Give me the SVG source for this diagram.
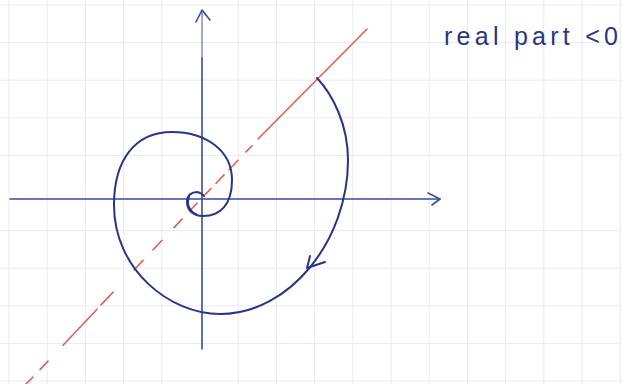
<svg xmlns="http://www.w3.org/2000/svg" width="622" height="384" viewBox="0 0 622 384">
<style>
.grid line{stroke:#e9ebf1;stroke-width:1}
.axis{stroke:#3a4aa6;stroke-width:1.6;fill:none;stroke-linecap:round;stroke-linejoin:round}
.ink{stroke:#2a3589;stroke-width:2;fill:none;stroke-linecap:round;stroke-linejoin:round}
.red{stroke:#ec5a55;stroke-width:1.6;fill:none;stroke-linecap:round}
.label{font-family:"Liberation Sans","DejaVu Sans",sans-serif;font-size:25px;fill:#2a3589}
</style>
<rect width="622" height="384" fill="#ffffff"/>
<g id="grid" class="grid">
<line x1="9" y1="0" x2="9" y2="384"/><line x1="47.2" y1="0" x2="47.2" y2="384"/><line x1="85.4" y1="0" x2="85.4" y2="384"/><line x1="123.6" y1="0" x2="123.6" y2="384"/><line x1="161.8" y1="0" x2="161.8" y2="384"/><line x1="238.2" y1="0" x2="238.2" y2="384"/><line x1="276.4" y1="0" x2="276.4" y2="384"/><line x1="314.6" y1="0" x2="314.6" y2="384"/><line x1="352.8" y1="0" x2="352.8" y2="384"/><line x1="391" y1="0" x2="391" y2="384"/><line x1="429.2" y1="0" x2="429.2" y2="384"/><line x1="467.4" y1="0" x2="467.4" y2="384"/><line x1="505.6" y1="0" x2="505.6" y2="384"/><line x1="543.8" y1="0" x2="543.8" y2="384"/><line x1="582" y1="0" x2="582" y2="384"/><line x1="620.2" y1="0" x2="620.2" y2="384"/>
<line x1="0" y1="5" x2="622" y2="5"/><line x1="0" y1="42.6" x2="622" y2="42.6"/><line x1="0" y1="80.2" x2="622" y2="80.2"/><line x1="0" y1="117.8" x2="622" y2="117.8"/><line x1="0" y1="155.4" x2="622" y2="155.4"/><line x1="0" y1="230.6" x2="622" y2="230.6"/><line x1="0" y1="268.2" x2="622" y2="268.2"/><line x1="0" y1="305.8" x2="622" y2="305.8"/><line x1="0" y1="343.4" x2="622" y2="343.4"/><line x1="0" y1="381" x2="622" y2="381"/>
</g>
<g id="axes">
<g id="x-axis"><line class="axis" x1="10" y1="199" x2="440" y2="199"/><polyline class="axis" points="428,193 440,199 432,205"/></g>
<g id="y-axis"><line class="axis" x1="202" y1="11" x2="202" y2="58" stroke-opacity="0.6"/><line class="axis" x1="202" y1="58" x2="202" y2="349"/><polyline class="axis" points="196,22 202,10 210,20"/></g>
</g>
<g id="red-line" class="red">
<line x1="367" y1="29" x2="258" y2="139"/>
<line x1="252" y1="145.7" x2="246" y2="151.9"/>
<line x1="238" y1="160.3" x2="229" y2="169.7"/>
<line x1="224" y1="174.9" x2="216" y2="183.3"/>
<line x1="211" y1="188.5" x2="205" y2="194.8"/>
<line x1="197" y1="203.2" x2="191" y2="209.5"/>
<line x1="182" y1="219.1" x2="174" y2="227.6"/>
<line x1="162" y1="240.3" x2="153" y2="249.8"/>
<line x1="143" y1="260.4" x2="134" y2="270"/>
<line x1="113" y1="292.2" x2="101" y2="304.9"/>
<line x1="97" y1="309.2" x2="63" y2="345.2"/>
<line x1="48" y1="361.1" x2="40" y2="369.6"/>
<line x1="33" y1="377" x2="26" y2="384"/>
</g>
<g id="spiral">
<path class="ink" d="M317,78 C333,95 348,125 348,160 C348,240 290,314 220,314 C170,314 114,270 114,205 C114,160 135,132 172,132 C205,132 232,150 232,180 C232,205 220,216 203,216 C193,216 187,210 187,202 C187,195 192,192 197,192 Q202,193 204,196"/>
<path class="ink" stroke-width="1.4" d="M189,197 C186,204 190,212 196,214"/>
<polyline class="ink" points="310,256 307,268 325,262"/>
</g>
<g id="label"><text class="label" x="444" y="45" textLength="174" lengthAdjust="spacing">real part &lt;0</text></g>
</svg>
